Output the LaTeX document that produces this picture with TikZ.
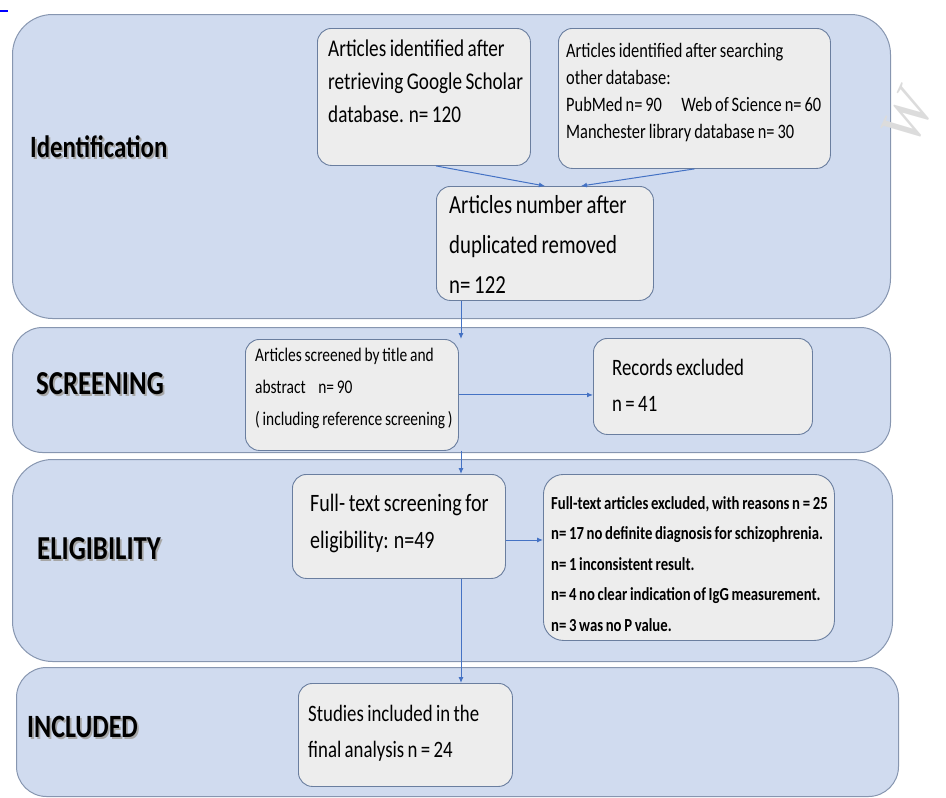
\documentclass[tikz,border=0pt]{standalone}
\usepackage{fontspec}
\setmainfont{Carlito}[FakeStretch=0.8, WordSpace=0.8]
\newfontfamily\wmfont{Liberation Serif}
\usetikzlibrary{arrows.meta}
\definecolor{panelfill}{HTML}{D0DBEF}
\definecolor{panelborder}{HTML}{8796B0}
\definecolor{boxfill}{HTML}{EDEDED}
\definecolor{boxborder}{HTML}{6A7E9F}
\definecolor{arrowblue}{HTML}{4472C4}
\definecolor{wmark}{HTML}{DCDCDC}
\newcommand\boxlines[1]{\begin{tabular}[t]{@{}l@{}}#1\end{tabular}}
\newcommand\shadowed[1]{\rlap{\hspace{1.8pt}\raisebox{-1.8pt}{\textcolor{black!35}{#1}}}#1}
\begin{document}
\begin{tikzpicture}[x=1pt,y=-1pt,
  panel/.style={draw=panelborder, fill=panelfill, line width=1pt, anchor=north west, inner sep=0pt},
  stagebox/.style={draw=boxborder, fill=boxfill, line width=0.9pt, rounded corners=14pt, anchor=north west, inner sep=0pt},
  boxtext/.style={anchor=base west, inner sep=0pt},
  flow/.style={draw=arrowblue, line width=1pt, -{Latex[length=6pt,width=5pt]}},
  stagelabel/.style={font=\bfseries\fontsize{#1}{#1}\selectfont, anchor=west, inner sep=0pt},
]
\useasboundingbox (0,0) rectangle (946,798);
\draw[blue, line width=2pt] (0,11) -- (8,11);

% stage panels
\node[panel, rounded corners=40pt, minimum width=878pt, minimum height=304pt] (P1) at (12,14) {};
\node[panel, rounded corners=30pt, minimum width=878pt, minimum height=125pt] (P2) at (12,327) {};
\node[panel, rounded corners=40pt, minimum width=880pt, minimum height=202pt] (P3) at (12,459) {};
\node[panel, rounded corners=30pt, minimum width=882pt, minimum height=129pt] (P4) at (16,667) {};

% watermark
\node[text=wmark, font=\wmfont\itshape\fontsize{60}{60}\selectfont, rotate=65, inner sep=0pt] (wm) at (908,118) {W};

% stage labels
\node[stagelabel=31] (L1) at (30,148) {\shadowed{Identification}};
\node[stagelabel=33.5] (L2) at (36,385) {\shadowed{SCREENING}};
\node[stagelabel=33.5] (L3) at (37,550) {\shadowed{ELIGIBILITY}};
\node[stagelabel=32.5] (L4) at (27,728) {\shadowed{INCLUDED}};

% boxes
\node[stagebox, minimum width=213pt, minimum height=137pt] (A) at (317,28) {};
\node[stagebox, minimum width=272pt, minimum height=140pt] (B) at (558,28) {};
\node[stagebox, minimum width=217pt, minimum height=114pt] (C) at (436,186) {};
\node[stagebox, minimum width=213pt, minimum height=111pt] (D) at (245,339) {};
\node[stagebox, minimum width=219pt, minimum height=96pt] (E) at (593,338) {};
\node[stagebox, minimum width=213pt, minimum height=104pt] (F) at (292,474) {};
\node[stagebox, rounded corners=20pt, minimum width=291pt, minimum height=166pt] (G) at (543,474) {};
\node[stagebox, minimum width=214pt, minimum height=103pt] (H) at (298,683) {};

% box texts
\node[boxtext, font=\fontsize{24}{33}\selectfont] (At) at (328,56)
  {\boxlines{Articles identified after\\retrieving Google Scholar\\database. n= 120}};
\node[boxtext, font=\fontsize{20.5}{27}\selectfont] (Bt) at (566,57)
  {\boxlines{Articles identified after searching\\other database:\\PubMed n= 90\hspace{0.8em} Web of Science n= 60\\Manchester library database n= 30}};
\node[boxtext, font=\fontsize{26}{40}\selectfont] (Ct) at (449,213)
  {\boxlines{Articles number after\\duplicated removed\\n= 122}};
\node[boxtext, font=\fontsize{19.3}{32}\selectfont] (Dt) at (255,361)
  {\boxlines{Articles screened by title and\\abstract\hspace{0.5em} n= 90\\( including reference screening )}};
\node[boxtext, font=\fontsize{23.5}{36}\selectfont] (Et) at (612,375)
  {\boxlines{Records excluded\\n = 41}};
\node[boxtext, font=\fontsize{25}{37}\selectfont] (Ft) at (310,511)
  {\boxlines{Full- text screening for\\eligibility: n=49}};
\node[boxtext, font=\bfseries\fontsize{18.4}{30.5}\selectfont] (Gt) at (551,509)
  {\boxlines{Full-text articles excluded, with reasons n = 25\\n= 17 no definite diagnosis for schizophrenia.\\n= 1 inconsistent result.\\n= 4 no clear indication of IgG measurement.\\n= 3 was no P value.}};
\node[boxtext, font=\fontsize{23.5}{36}\selectfont] (Ht) at (308,721)
  {\boxlines{Studies included in the\\final analysis n = 24}};

% connectors
\coordinate (v) at (461,0);
\coordinate (h2) at (0,540);
\draw[flow] ([xshift=12pt]A.south) -- (C.north);
\draw[flow] (B.south) -- ([xshift=36pt]C.north);
\draw[flow] (C.south west -| v) -- (D.north west -| v);
\draw[flow] (D.east) -- (D.east -| E.west);
\draw[flow] (D.south west -| v) -- (F.north west -| v);
\draw[flow] (F.east |- h2) -- (G.west |- h2);
\draw[flow] (F.south west -| v) -- (H.north west -| v);
\end{tikzpicture}
\end{document}
